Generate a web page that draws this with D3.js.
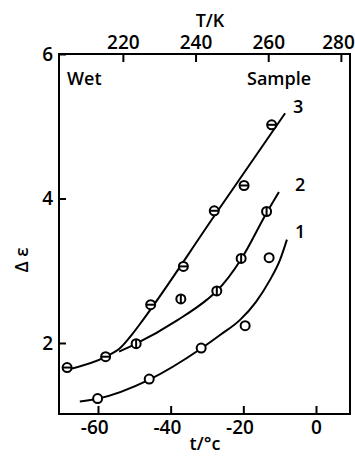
<!DOCTYPE html>
<html>
<head>
<meta charset="utf-8">
<script src="https://cdn.jsdelivr.net/npm/d3@7"></script>
<style>
  body { margin: 0; background: #fff; }
  text { font-family: "Open Sans", sans-serif; font-weight: 600; fill: #000; }
</style>
</head>
<body>
<div id="chart"></div>
<script>
// measured points, t in deg C, delta epsilon
var s1T = [-60.1, -45.9, -31.6, -19.5, -12.9];
var s1E = [1.23, 1.50, 1.93, 2.24, 3.18];
var s2T = [-49.5, -37.2, -27.3, -20.6, -13.6];
var s2E = [1.99, 2.61, 2.72, 3.17, 3.82];
var s3T = [-68.5, -57.9, -45.5, -36.5, -28.0, -19.8, -12.2];
var s3E = [1.66, 1.81, 2.53, 3.06, 3.83, 4.18, 5.02];

// hand drawn fit curves
var c1T = [-65.0, -60.0, -46.0, -31.7, -26.4, -20.9, -16.5, -12.7, -9.9, -8.0];
var c1E = [1.19, 1.23, 1.49, 1.92, 2.11, 2.32, 2.57, 2.87, 3.15, 3.43];
var c2T = [-54.2, -49.5, -38.0, -30.0, -27.3, -20.6, -13.5, -10.2];
var c2E = [1.88, 1.99, 2.32, 2.60, 2.72, 3.16, 3.81, 4.09];
var c3T = [-68.5, -57.8, -53.9, -50.6, -47.6, -28.1, -8.5];
var c3E = [1.63, 1.81, 1.93, 2.12, 2.32, 3.75, 5.18];

var bottomTicks = [-60, -40, -20, 0];
var topTicks = [220, 240, 260, 280];
var leftTicks = [2, 4, 6];

var margin = {top: 54, right: 5, bottom: 43, left: 59},
    width = 355 - margin.left - margin.right,
    height = 457 - margin.top - margin.bottom;

var svg = d3.select("#chart")
  .append("svg")
    .attr("width", 355)
    .attr("height", 457)
  .append("g")
    .attr("transform", "translate(" + margin.left + "," + margin.top + ")");

var x = d3.scaleLinear().domain([-70.73, 9.36]).range([0, width]);
var xK = d3.scaleLinear().domain([-70.73 + 273.15, 9.36 + 273.15]).range([0, width]);
var y = d3.scaleLinear().domain([1.017, 6]).range([height, 0]);

// bottom axis
var gb = svg.append("g")
  .attr("transform", "translate(0," + height + ")")
  .call(d3.axisBottom(x).tickValues(bottomTicks).tickSize(-8).tickPadding(7)
    .tickFormat(function(d) { return d < 0 ? "-" + (-d) : d; }));
gb.selectAll("text").attr("font-size", 19).attr("dx", function(d) { return d < 0 ? "-0.2em" : 0; });

// top axis (kelvin)
var gt = svg.append("g")
  .call(d3.axisTop(xK).tickValues(topTicks).tickSize(-8).tickPadding(5));
gt.selectAll("text").attr("font-size", 19).attr("dx", function(d) { return d == 280 ? "-0.15em" : 0; });

// left axis
var gl = svg.append("g")
  .call(d3.axisLeft(y).tickValues(leftTicks).tickSize(-7).tickPadding(6).tickFormat(d3.format("d")));
gl.selectAll("text").attr("font-size", 19);

svg.selectAll(".domain").remove();
svg.selectAll(".tick line").attr("stroke", "#000").attr("stroke-width", 2);

// frame
svg.append("rect")
  .attr("width", width).attr("height", height)
  .attr("fill", "none").attr("stroke", "#000").attr("stroke-width", 2);

// axis titles
svg.append("text").attr("x", 151).attr("y", -27).attr("text-anchor", "middle")
  .attr("font-size", 18).text("T/K");
svg.append("text").attr("x", 146).attr("y", height + 36).attr("text-anchor", "middle")
  .attr("font-size", 18).text("t/°c");
svg.append("text")
  .attr("transform", "translate(-31," + (y(3.15)) + ") rotate(-90)")
  .attr("text-anchor", "middle").attr("font-size", 18).text("Δ ε");

// in-plot labels
svg.append("text").attr("x", 8).attr("y", 31).attr("font-size", 18).text("Wet");
svg.append("text").attr("x", 188).attr("y", 31).attr("font-size", 18).text("Sample");
svg.append("text").attr("x", 234).attr("y", 59).attr("font-size", 18).text("3");
svg.append("text").attr("x", 236).attr("y", 137).attr("font-size", 18).text("2");
svg.append("text").attr("x", 236).attr("y", 184).attr("font-size", 18).text("1");

// curves
var line = d3.line()
  .x(function(d) { return x(d[0]); })
  .y(function(d) { return y(d[1]); })
  .curve(d3.curveMonotoneX);

[[c1T, c1E], [c2T, c2E], [c3T, c3E]].forEach(function(c) {
  svg.append("path")
    .datum(d3.zip(c[0], c[1]))
    .attr("fill", "none").attr("stroke", "#000").attr("stroke-width", 2)
    .attr("d", line);
});

// markers
function drawPoints(ts, es, bar) {
  var g = svg.append("g").selectAll("g")
    .data(d3.zip(ts, es))
    .join("g")
      .attr("transform", function(d) { return "translate(" + x(d[0]) + "," + y(d[1]) + ")"; });
  g.append("circle").attr("r", 4.5)
    .attr("fill", "#fff").attr("stroke", "#000").attr("stroke-width", 2);
  if (bar == "h") g.append("line").attr("x1", -4.5).attr("x2", 4.5).attr("stroke", "#000").attr("stroke-width", 2);
  if (bar == "v") g.append("line").attr("y1", -4.5).attr("y2", 4.5).attr("stroke", "#000").attr("stroke-width", 2);
}
drawPoints(s1T, s1E, null);
drawPoints(s2T, s2E, "v");
drawPoints(s3T, s3E, "h");
</script>
</body>
</html>
